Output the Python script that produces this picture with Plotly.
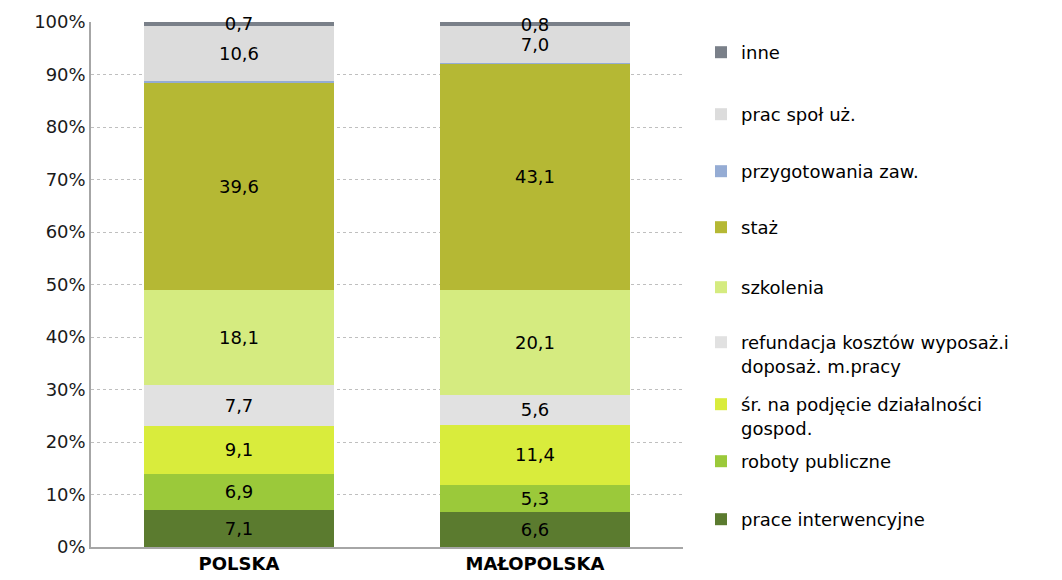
import plotly.graph_objects as go

# dane: udział form aktywizacji (%)
regiony = ["POLSKA", "MAŁOPOLSKA"]
serie = [
    "prace interwencyjne",
    "roboty publiczne",
    "śr. na podjęcie działalności<br>gospod.",
    "refundacja kosztów wyposaż.i<br>doposaż. m.pracy",
    "szkolenia",
    "staż",
    "przygotowania zaw.",
    "prac społ uż.",
    "inne",
]
prace_interwencyjne = [7.1, 6.6]
roboty_publiczne = [6.9, 5.3]
sr_dzialalnosc = [9.1, 11.4]
refundacja = [7.7, 5.6]
szkolenia = [18.1, 20.1]
staz = [39.6, 43.1]
przygotowania = [0.2, 0.1]
prac_spol = [10.6, 7.0]
inne = [0.7, 0.8]
pokaz_etykiety = [True, True, True, True, True, True, False, True, True]

wartosci = [prace_interwencyjne, roboty_publiczne, sr_dzialalnosc, refundacja,
            szkolenia, staz, przygotowania, prac_spol, inne]
kolory = ["#5b7b2f", "#9bc93a", "#d9ec3c", "#e1e1e1", "#d5eb80",
          "#b5b834", "#95acd4", "#dcdcdc", "#7a8089"]

# pozycje legend (px od góry, środek pierwszej linii)
legend_y = [520, 462, 405, 343, 288, 228, 172, 115, 53]

FONT = "DejaVu Sans, Arial, sans-serif"
W, H = 1062, 580

fig = go.Figure()
for i, (nazwa, vals, kol) in enumerate(zip(serie, wartosci, kolory)):
    lname = "legend" if i == 0 else f"legend{i + 1}"
    fig.add_trace(go.Bar(
        name=nazwa, x=regiony, y=vals, marker_color=kol,
        marker_line_width=0,
        text=[f"{v:.1f}".replace(".", ",") for v in vals] if pokaz_etykiety[i] else None,
        textposition="inside", insidetextanchor="middle",
        textfont=dict(family=FONT, size=18, color="#000000"),
        cliponaxis=False,
        showlegend=True,
        legend=lname,
    ))

layout_legends = {}
for i, yy in enumerate(legend_y):
    lname = "legend" if i == 0 else f"legend{i + 1}"
    layout_legends[lname] = dict(
        xref="container", yref="container",
        x=701 / W, y=1 - (yy - 19) / H, yanchor="top", xanchor="left",
        font=dict(family=FONT, size=18, color="#000000"),
        bgcolor="rgba(0,0,0,0)", valign="top",
        visible=True,
    )

fig.update_layout(
    barmode="stack",
    bargap=0.36,
    width=W, height=H,
    showlegend=True,
    margin=dict(l=91, r=379, t=22, b=33, autoexpand=False),
    plot_bgcolor="white", paper_bgcolor="white",
    font=dict(family=FONT, size=18, color="#1a1a1a"),
    uniformtext=dict(minsize=18, mode="show"),
    **layout_legends,
)
fig.update_yaxes(
    range=[0, 100], dtick=10, ticksuffix="%",
    showgrid=True, gridcolor="#bfbfbf", griddash="dot", gridwidth=1,
    showline=True, linecolor="#a6a6a6", linewidth=1.5,
    tickfont=dict(family=FONT, size=18, color="#1a1a1a"),
    ticks="", zeroline=False,
)
fig.update_xaxes(
    showline=True, linecolor="#a6a6a6", linewidth=1.5,
    tickfont=dict(family=FONT, size=18, color="#000000"),
    tickprefix="<b>", ticksuffix="</b>",
)

fig.write_html("out.html", config={"displayModeBar": False},
               post_script="document.body.style.margin='0';")
